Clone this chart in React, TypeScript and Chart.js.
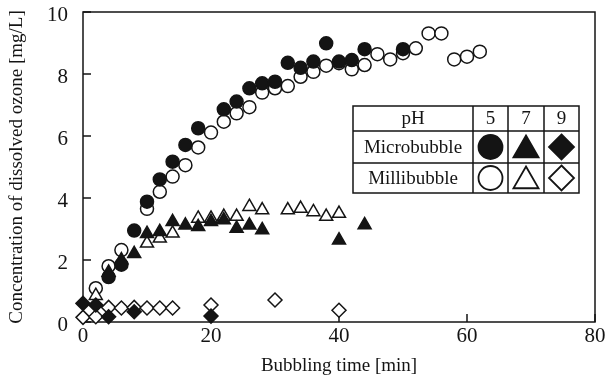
import React, { useEffect, useRef } from 'react';
import { Chart, registerables } from 'chart.js';

Chart.register(...registerables);

// Bubbling time [min] and dissolved ozone [mg/L]
const microPH5Time = [4, 6, 8, 10, 12, 14, 16, 18, 22, 24, 26, 28, 30, 32, 34, 36, 38, 40, 42, 44, 50];
const microPH5Conc = [1.45, 1.85, 2.95, 3.88, 4.6, 5.17, 5.71, 6.25, 6.86, 7.11, 7.54, 7.7, 7.75, 8.36, 8.2, 8.4, 8.99, 8.4, 8.45, 8.8, 8.8];

const milliPH5Time = [2, 4, 6, 10, 12, 14, 16, 18, 20, 22, 24, 26, 28, 30, 32, 34, 36, 38, 40, 42, 44, 46, 48, 50, 52, 54, 56, 58, 60, 62];
const milliPH5Conc = [1.09, 1.8, 2.32, 3.65, 4.2, 4.69, 5.06, 5.63, 6.11, 6.46, 6.73, 6.93, 7.4, 7.54, 7.61, 7.91, 8.07, 8.27, 8.35, 8.15, 8.29, 8.64, 8.47, 8.67, 8.83, 9.31, 9.31, 8.47, 8.56, 8.72];

const microPH7Time = [4, 6, 8, 10, 12, 14, 16, 18, 20, 22, 24, 26, 28, 40, 44];
const microPH7Conc = [1.6, 2.0, 2.2, 2.85, 2.91, 3.23, 3.12, 3.07, 3.23, 3.29, 3.02, 3.12, 2.97, 2.64, 3.13];

const milliPH7Time = [2, 10, 12, 14, 18, 20, 22, 24, 26, 28, 32, 34, 36, 38, 40];
const milliPH7Conc = [0.85, 2.54, 2.7, 2.86, 3.34, 3.34, 3.4, 3.4, 3.72, 3.61, 3.61, 3.66, 3.55, 3.4, 3.5];

const microPH9Time = [0, 2, 4, 8, 20];
const microPH9Conc = [0.6, 0.55, 0.17, 0.33, 0.19];

const milliPH9Time = [0, 2, 4, 6, 8, 10, 12, 14, 20, 30, 40];
const milliPH9Conc = [0.15, 0.17, 0.47, 0.45, 0.47, 0.45, 0.45, 0.45, 0.55, 0.71, 0.38];

const xTickValues = [0, 20, 40, 60, 80];
const yTickValues = [0, 2, 4, 6, 8, 10];

const legendHeader = ['pH', '5', '7', '9'];
const legendRows = ['Microbubble', 'Millibubble'];

const INK = '#141414';
const FONT = '"Liberation Serif", "Times New Roman", serif';

function pts(xs: number[], ys: number[]) {
  return xs.map((x, i) => ({ x, y: ys[i] }));
}

function drawSymbol(ctx: CanvasRenderingContext2D, style: string, x: number, y: number, r: number, filled: boolean) {
  ctx.beginPath();
  if (style === 'circle') {
    ctx.arc(x, y, r, 0, Math.PI * 2);
  } else if (style === 'triangle') {
    ctx.moveTo(x, y - r);
    ctx.lineTo(x + 0.866 * r, y + 0.5 * r);
    ctx.lineTo(x - 0.866 * r, y + 0.5 * r);
    ctx.closePath();
  } else {
    ctx.moveTo(x, y - r);
    ctx.lineTo(x + r, y);
    ctx.lineTo(x, y + r);
    ctx.lineTo(x - r, y);
    ctx.closePath();
  }
  ctx.fillStyle = filled ? INK : '#ffffff';
  ctx.fill();
  ctx.lineWidth = 1.8;
  ctx.strokeStyle = INK;
  ctx.stroke();
}

const framePlugin = {
  id: 'frameTicks',
  beforeDatasetsDraw(chart: any) {
    const { ctx, chartArea, scales } = chart;
    const { left, right, top, bottom } = chartArea;
    ctx.save();
    ctx.strokeStyle = INK;
    ctx.lineWidth = 1.5;
    ctx.strokeRect(left, top, right - left, bottom - top);
    ctx.beginPath();
    xTickValues.forEach((v) => {
      const px = scales.x.getPixelForValue(v);
      ctx.moveTo(px, bottom);
      ctx.lineTo(px, bottom - 8);
    });
    yTickValues.forEach((v) => {
      const py = scales.y.getPixelForValue(v);
      ctx.moveTo(left, py);
      ctx.lineTo(left + 8, py);
    });
    ctx.stroke();
    ctx.restore();
  },
  afterDraw(chart: any) {
    const { ctx } = chart;
    const L = 353, R = 579, T = 106, B = 193;
    const rowLines = [131, 163];
    const colLines = [473, 508, 544];
    ctx.save();
    ctx.fillStyle = '#ffffff';
    ctx.fillRect(L, T, R - L, B - T);
    ctx.strokeStyle = INK;
    ctx.lineWidth = 1.5;
    ctx.strokeRect(L, T, R - L, B - T);
    ctx.beginPath();
    rowLines.forEach((y) => { ctx.moveTo(L, y); ctx.lineTo(R, y); });
    colLines.forEach((x) => { ctx.moveTo(x, T); ctx.lineTo(x, B); });
    ctx.stroke();

    const colEdges = [L, ...colLines, R];
    const rowEdges = [T, ...rowLines, B];
    const colCenter = (i: number) => (colEdges[i] + colEdges[i + 1]) / 2;
    const rowCenter = (i: number) => (rowEdges[i] + rowEdges[i + 1]) / 2;

    ctx.fillStyle = INK;
    ctx.font = `19px ${FONT}`;
    ctx.textAlign = 'center';
    ctx.textBaseline = 'middle';
    legendHeader.forEach((t, i) => ctx.fillText(t, colCenter(i), rowCenter(0) + 1));
    legendRows.forEach((t, i) => ctx.fillText(t, colCenter(0), rowCenter(i + 1) + 1));

    const styles = ['circle', 'triangle', 'rectRot'];
    const radii = [12, 14.5, 12.5];
    const yShift = [0, 3, 0];
    styles.forEach((s, c) => {
      drawSymbol(ctx, s, colCenter(c + 1), rowCenter(1) + yShift[c], radii[c], true);
      drawSymbol(ctx, s, colCenter(c + 1), rowCenter(2) + yShift[c], radii[c], false);
    });
    ctx.restore();
  },
};

function series(label: string, xs: number[], ys: number[], style: string, radius: number, filled: boolean) {
  return {
    label,
    data: pts(xs, ys),
    pointStyle: style,
    pointRadius: radius,
    pointHoverRadius: radius,
    backgroundColor: filled ? INK : '#ffffff',
    borderColor: INK,
    borderWidth: 1.5,
    showLine: false,
    clip: false as any,
  };
}

export default function App() {
  const canvasRef = useRef<HTMLCanvasElement | null>(null);

  useEffect(() => {
    if (!canvasRef.current) return;
    const chart = new Chart(canvasRef.current, {
      type: 'scatter',
      data: {
        datasets: [
          series('Microbubble pH 9', microPH9Time, microPH9Conc, 'rectRot', 7, true),
          series('Microbubble pH 7', microPH7Time, microPH7Conc, 'triangle', 7.5, true),
          series('Microbubble pH 5', microPH5Time, microPH5Conc, 'circle', 6.5, true),
          series('Millibubble pH 9', milliPH9Time, milliPH9Conc, 'rectRot', 7, false),
          series('Millibubble pH 7', milliPH7Time, milliPH7Conc, 'triangle', 7.5, false),
          series('Millibubble pH 5', milliPH5Time, milliPH5Conc, 'circle', 6.5, false),
        ],
      },
      options: {
        responsive: false,
        animation: false,
        events: [],
        layout: { padding: { left: 0, right: 13, top: 12, bottom: 0 } },
        plugins: { legend: { display: false }, tooltip: { enabled: false } },
        scales: {
          x: {
            type: 'linear',
            min: 0,
            max: 80,
            border: { display: false },
            grid: { display: false, drawTicks: false },
            afterFit: (s: any) => { s.height = 61; s.paddingLeft = 0; s.paddingRight = 0; },
            afterBuildTicks: (s: any) => { s.ticks = xTickValues.map((v) => ({ value: v })); },
            ticks: {
              color: INK,
              padding: 4,
              maxRotation: 0,
              font: { family: FONT, size: 21, lineHeight: 1 },
            },
            title: {
              display: true,
              text: 'Bubbling time [min]',
              color: INK,
              font: { family: FONT, size: 19, lineHeight: 1.2 },
              padding: { top: 0, bottom: 6 },
            },
          },
          y: {
            type: 'linear',
            min: 0,
            max: 10,
            border: { display: false },
            grid: { display: false, drawTicks: false },
            afterFit: (s: any) => { s.width = 83; s.paddingTop = 0; s.paddingBottom = 0; },
            afterBuildTicks: (s: any) => { s.ticks = yTickValues.map((v) => ({ value: v })); },
            ticks: {
              color: INK,
              padding: 15,
              labelOffset: 3,
              font: { family: FONT, size: 21, lineHeight: 1 },
            },
            title: {
              display: true,
              text: 'Concentration of dissolved ozone [mg/L]',
              color: INK,
              font: { family: FONT, size: 19, lineHeight: 1.2 },
              padding: { top: 6, bottom: 0 },
            },
          },
        },
      },
      plugins: [framePlugin],
    });
    return () => chart.destroy();
  }, []);

  return (
    <div style={{ position: 'fixed', left: 0, top: 0, width: 608, height: 383, background: '#ffffff' }}>
      <canvas ref={canvasRef} width={608} height={383} style={{ display: 'block' }} />
    </div>
  );
}
